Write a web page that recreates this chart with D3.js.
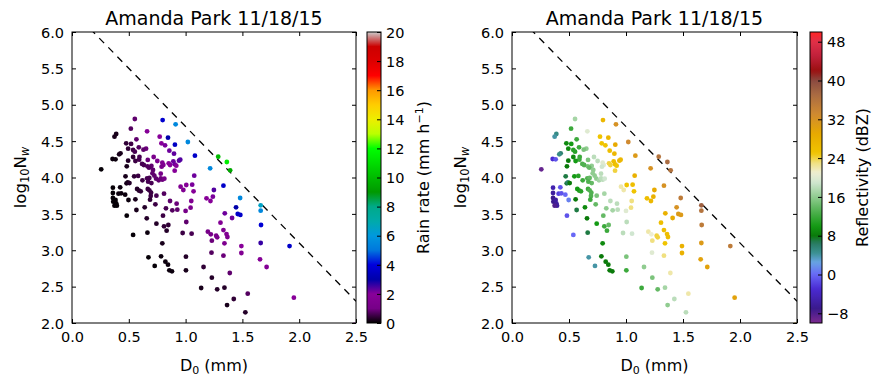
<!DOCTYPE html>
<html>
<head>
<meta charset="utf-8">
<script src="https://cdn.jsdelivr.net/npm/d3@7.9.0/dist/d3.min.js"></script>
<style>
  body { margin: 0; background: #fff; }
  text { font-family: "DejaVu Sans", sans-serif; fill: #000; }
</style>
</head>
<body>
<svg id="fig" width="886" height="386"></svg>
<script>
// median drop diameter (mm)
const D0 = [
  0.553,0.798,0.912,0.518,0.661,0.389,0.374,0.772,0.845,0.567,
  1.020,0.477,0.520,0.787,0.819,0.906,0.494,0.538,0.588,0.652,
  0.629,0.857,0.553,0.427,0.415,0.898,1.082,0.357,0.383,0.494,
  0.538,0.594,0.591,0.558,0.667,0.719,0.751,0.795,0.804,0.851,
  0.863,0.892,0.904,0.918,0.942,0.953,1.287,1.363,1.392,1.216,
  0.617,0.664,0.699,0.713,0.678,0.632,0.482,0.257,0.789,0.904,
  1.076,0.471,0.547,0.582,0.620,0.661,0.681,0.725,0.708,0.740,
  0.763,0.781,0.795,0.813,0.699,0.781,0.480,0.491,0.506,0.670,
  1.006,1.058,0.956,1.333,0.360,0.424,0.360,0.409,0.433,0.468,
  0.573,0.591,0.605,0.667,0.681,0.696,0.693,0.743,0.810,0.863,
  0.921,0.980,1.070,1.249,1.184,1.219,1.240,1.480,0.360,0.363,
  0.383,0.389,0.395,0.374,0.497,0.558,0.687,0.734,0.827,0.883,
  0.927,1.050,1.044,1.000,1.444,1.459,1.482,1.661,1.661,0.640,
  0.567,0.482,0.801,0.658,0.743,0.810,0.848,0.833,1.006,1.345,
  1.409,1.307,1.333,1.360,1.368,1.664,0.538,0.664,0.974,1.053,
  1.196,1.222,1.269,1.278,1.231,1.342,0.795,1.491,1.661,1.915,
  1.228,1.333,1.491,0.673,0.784,1.003,1.655,1.713,0.822,0.845,
  0.728,1.158,0.857,0.880,1.003,1.389,1.231,1.137,1.278,1.342,
  1.547,1.424,1.953,1.365,1.526,2.485
];

// log10 of normalized intercept
const logNw = [
  4.804,4.790,4.731,4.671,4.635,4.598,4.561,4.561,4.548,4.525,
  4.488,4.470,4.461,4.470,4.442,4.451,4.396,4.378,4.415,4.396,
  4.383,4.369,4.355,4.332,4.318,4.328,4.300,4.254,4.250,4.231,
  4.282,4.282,4.245,4.227,4.241,4.282,4.227,4.204,4.172,4.195,
  4.172,4.222,4.181,4.163,4.231,4.245,4.286,4.213,4.099,4.126,
  4.186,4.154,4.158,4.103,4.135,4.172,4.154,4.112,4.149,4.094,
  4.025,4.016,4.016,4.021,3.961,3.989,3.993,4.025,4.057,3.984,
  3.961,3.989,3.970,3.984,3.924,4.053,3.920,3.934,3.924,3.943,
  3.897,3.902,3.874,3.888,3.860,3.865,3.787,3.778,3.782,3.764,
  3.842,3.819,3.810,3.842,3.824,3.792,3.746,3.750,3.778,3.677,
  3.640,3.828,3.810,3.828,3.714,3.677,3.737,3.718,3.718,3.668,
  3.691,3.645,3.613,3.613,3.691,3.700,3.695,3.631,3.576,3.549,
  3.558,3.677,3.585,3.540,3.590,3.498,3.485,3.617,3.544,3.590,
  3.553,3.475,3.475,3.439,3.365,3.329,3.347,3.269,3.388,3.507,
  3.443,3.379,3.278,3.223,3.182,3.347,3.210,3.242,3.237,3.228,
  3.255,3.219,3.200,3.178,3.132,3.095,3.095,3.058,3.100,3.058,
  2.967,2.926,2.962,2.903,2.916,2.912,2.875,2.770,2.843,2.802,
  2.784,2.770,2.724,2.710,2.724,2.687,2.623,2.481,2.463,2.486,
  2.403,2.330,2.348,2.247,2.147,1.975
];

// rain rate (mm/h)
const rainRate = [
  0.8,3.7,5.5,0.7,1.8,0.2,0.2,2.0,3.0,0.8,
  5.5,0.4,0.5,2.0,2.1,3.5,0.4,0.5,0.7,0.9,
  0.8,2.2,0.6,0.2,0.2,2.3,3.6,0.1,0.1,0.3,
  0.4,0.6,0.6,0.5,0.9,1.2,1.3,1.6,1.6,2.0,
  2.0,2.2,2.2,2.0,2.3,2.4,10,11.5,9.5,5.5,
  0.6,0.7,0.8,0.8,0.7,0.6,0.2,0.05,1.1,1.9,
  2.2,0.2,0.4,0.5,0.5,0.6,0.6,0.8,0.8,0.8,
  0.8,0.9,0.9,1.0,0.6,1.0,0.2,0.2,0.3,0.6,
  1.9,2.1,1.6,3.6,0.05,0.1,0.05,0.1,0.1,0.1,
  0.3,0.3,0.4,0.5,0.5,0.5,0.5,0.6,0.7,0.8,
  0.9,1.6,1.9,2.4,1.9,1.9,2.1,5.5,0.05,0.05,
  0.05,0.05,0.05,0.05,0.1,0.2,0.4,0.5,0.6,0.7,
  0.8,1.5,1.3,1.0,3.0,3.6,3.6,6.5,5.5,0.3,
  0.2,0.05,0.5,0.3,0.3,0.4,0.4,0.3,0.8,2.2,
  2.2,1.7,1.6,1.6,1.5,3.8,0.05,0.1,0.5,0.6,
  1.0,1.0,1.2,1.2,0.9,1.4,0.2,2.0,2.6,3.6,
  0.7,0.9,1.6,0.05,0.1,0.3,1.8,1.7,0.1,0.1,
  0.05,0.4,0.1,0.1,0.2,0.8,0.3,0.2,0.3,0.3,
  0.7,0.4,2.0,0.2,0.3,2.0
];

// reflectivity (dBZ)
const reflectivity = [
  17,27,32,12,20,5,4,25,27,12,
  33,9,10,25,25,29,9,11,12,16,
  15,26,11,6,5,27,31,-3,-1,8,
  9,12,12,10,15,18,18,20,20,24,
  24,26,26,25,27,27,36,37,36,32,
  13,15,16,16,14,13,8,-9,19,24,
  28,7,10,11,12,13,14,16,16,16,
  17,18,18,19,14,18,7,6,8,13,
  25,26,22,32,-5,-1,-6,-2,-1,0,
  10,10,11,12,13,13,13,15,17,18,
  18,22,25,29,26,27,28,35,-7,-7,
  -6,-6,-6,-8,1,8,12,14,16,17,
  18,23,23,20,32,31,31,38,36,9,
  7,-1,14,8,10,12,14,12,18,28,
  29,26,26,26,26,35,0,7,18,19,
  22,21,24,24,23,25,9,28,31,35,
  20,23,28,4,8,15,30,30,8,8,
  4,16,8,8,12,22,15,12,14,17,
  22,18,30,16,18,30
];

// dashed reference line end points
const lineD = [0, 2.5];
const lineN = [6.3, 2.3];

const xTicks = [0, 0.5, 1.0, 1.5, 2.0, 2.5];
const yTicks = [2.0, 2.5, 3.0, 3.5, 4.0, 4.5, 5.0, 5.5, 6.0];
const rainTicks = [0, 2, 4, 6, 8, 10, 12, 14, 16, 18, 20];
const dbzTicks = [-8, 0, 8, 16, 24, 32, 40, 48];

const title = 'Amanda Park 11/18/15';

// nipy_spectral colormap
const nipy = [[0,0,0],[.4667,0,.5333],[.5333,0,.6],[0,0,.6667],[0,0,.8667],[0,.4667,.8667],
  [0,.6,.8667],[0,.6667,.6667],[0,.6667,.5333],[0,.6,0],[0,.7333,0],[0,.8667,0],[0,1,0],
  [.7333,1,0],[.9333,.9333,0],[1,.8,0],[1,.6,0],[1,0,0],[.8667,0,0],[.8,0,0],[.8,.8,.8]];
const rainColor = d3.scaleLinear()
  .domain(nipy.map((c, i) => i))
  .range(nipy.map(c => d3.rgb(c[0]*255, c[1]*255, c[2]*255)))
  .clamp(true);

const dbzStops = [-10,-7,-3,0,2.5,4.5,6.5,8,10,13,16,19,21,23,25,29,33,37,40,42,45,48,50];
const dbzCols = ['#7c2a90','#3a1a8c','#4a2ad2','#6868f6','#68a4e4','#3a9090','#287a60','#0a7a0a',
  '#149a14','#50b050','#90cc90','#d0e6d0','#eeeed2','#f0e080','#f0c400','#e8aa00','#d08a30',
  '#aa6c42','#8a4a40','#9a1010','#c0203a','#e03048','#ff2424'];
const dbzColor = d3.scaleLinear().domain(dbzStops).range(dbzCols).clamp(true);

const svg = d3.select('#fig');
const defs = svg.append('defs');

const yTop = 32, yBot = 323;
const panels = [
  { x0: 72, x1: 356, cb0: 367, cb1: 381, values: rainRate, color: rainColor, dom: [0, 20],
    ticks: rainTicks, label: 'rain', id: 'a' },
  { x0: 512, x1: 797, cb0: 810, cb1: 822, values: reflectivity, color: dbzColor, dom: [-10, 50],
    ticks: dbzTicks, label: 'dbz', id: 'b' }
];

const points = D0.map((d, i) => ({ d: d, n: logNw[i], i: i }));

panels.forEach(p => {
  const x = d3.scaleLinear().domain([0, 2.5]).range([p.x0, p.x1]);
  const y = d3.scaleLinear().domain([2, 6]).range([yBot, yTop]);
  const g = svg.append('g');

  defs.append('clipPath').attr('id', 'clip' + p.id)
    .append('rect').attr('x', p.x0).attr('y', yTop)
    .attr('width', p.x1 - p.x0).attr('height', yBot - yTop);

  const plot = g.append('g').attr('clip-path', `url(#clip${p.id})`);

  // dashed line
  plot.append('line')
    .attr('x1', x(lineD[0])).attr('y1', y(lineN[0]))
    .attr('x2', x(lineD[1])).attr('y2', y(lineN[1]))
    .attr('stroke', '#000').attr('stroke-width', 1.3)
    .attr('stroke-dasharray', '7,6');

  plot.selectAll('circle').data(points).join('circle')
    .attr('cx', d => x(d.d)).attr('cy', d => y(d.n)).attr('r', 2.4)
    .attr('fill', d => p.color(p.values[d.i]));

  // axes, ticks inward on all sides
  const fmt = d3.format('.1f');
  const ax = [
    g.append('g').attr('transform', `translate(0,${yBot})`)
      .call(d3.axisBottom(x).tickValues(xTicks).tickFormat(fmt).tickSize(-4).tickPadding(9)),
    g.append('g').attr('transform', `translate(0,${yTop})`)
      .call(d3.axisTop(x).tickValues(xTicks).tickFormat('').tickSize(-4)),
    g.append('g').attr('transform', `translate(${p.x0},0)`)
      .call(d3.axisLeft(y).tickValues(yTicks).tickFormat(fmt).tickSize(-4).tickPadding(8)),
    g.append('g').attr('transform', `translate(${p.x1},0)`)
      .call(d3.axisRight(y).tickValues(yTicks).tickFormat('').tickSize(-4))
  ];
  ax.forEach(a => {
    a.select('.domain').remove();
    a.selectAll('.tick line').attr('stroke', '#000');
    a.selectAll('text').style('font-size', '14.5px').attr('font-family', 'DejaVu Sans');
  });
  ax[2].selectAll('text').attr('dy', '0.36em');

  g.append('rect').attr('x', p.x0).attr('y', yTop)
    .attr('width', p.x1 - p.x0).attr('height', yBot - yTop)
    .attr('fill', 'none').attr('stroke', '#000').attr('stroke-width', 1);

  // title
  g.append('text').attr('x', (p.x0 + p.x1) / 2).attr('y', 25)
    .attr('text-anchor', 'middle').style('font-size', '19px').text(title);

  // x label D0 (mm)
  const xl = g.append('text').attr('x', (p.x0 + p.x1) / 2).attr('y', 371)
    .attr('text-anchor', 'middle').style('font-size', '16px');
  xl.append('tspan').text('D');
  xl.append('tspan').attr('dy', 3).style('font-size', '11px').text('0');
  xl.append('tspan').attr('dy', -3).text(' (mm)');

  // y label log10 Nw
  const yl = g.append('text')
    .attr('transform', `translate(${p.x0 - 46},${(yTop + yBot) / 2}) rotate(-90)`)
    .attr('text-anchor', 'middle').style('font-size', '16.5px');
  yl.append('tspan').text('log');
  yl.append('tspan').attr('dy', 3).style('font-size', '11.5px').text('10');
  yl.append('tspan').attr('dy', -3).text('N');
  yl.append('tspan').attr('dy', 3).style('font-size', '11.5px').style('font-style', 'italic').text('w');

  // colorbar
  const cs = d3.scaleLinear().domain(p.dom).range([yBot, yTop]);
  const grad = defs.append('linearGradient').attr('id', 'grad' + p.id)
    .attr('x1', 0).attr('y1', 1).attr('x2', 0).attr('y2', 0);
  d3.range(0, 1.0001, 0.01).forEach(t => {
    const v = p.dom[0] + t * (p.dom[1] - p.dom[0]);
    grad.append('stop').attr('offset', t).attr('stop-color', p.color(v));
  });
  g.append('rect').attr('x', p.cb0).attr('y', yTop)
    .attr('width', p.cb1 - p.cb0).attr('height', yBot - yTop)
    .attr('fill', `url(#grad${p.id})`).attr('stroke', '#000').attr('stroke-width', 1);
  const cax = g.append('g').attr('transform', `translate(${p.cb1},0)`)
    .call(d3.axisRight(cs).tickValues(p.ticks).tickSize(-4).tickPadding(5)
      .tickFormat(d => d < 0 ? '\u2212' + Math.abs(d) : String(d)));
  cax.select('.domain').remove();
  cax.selectAll('.tick line').attr('stroke', '#000');
  cax.selectAll('text').style('font-size', '14.5px').attr('dy', '0.36em');

  const cl = g.append('text')
    .attr('transform', `translate(${p.cb1 + (p.label === 'rain' ? 48 : 46)},${(yTop + yBot) / 2}) rotate(-90)`)
    .attr('text-anchor', 'middle').style('font-size', '16px');
  if (p.label === 'rain') {
    cl.append('tspan').text('Rain rate (mm h');
    cl.append('tspan').attr('dy', -6).style('font-size', '11px').text('\u22121');
    cl.append('tspan').attr('dy', 6).text(')');
  } else {
    cl.text('Reflectivity (dBZ)');
  }
});
</script>
</body>
</html>
